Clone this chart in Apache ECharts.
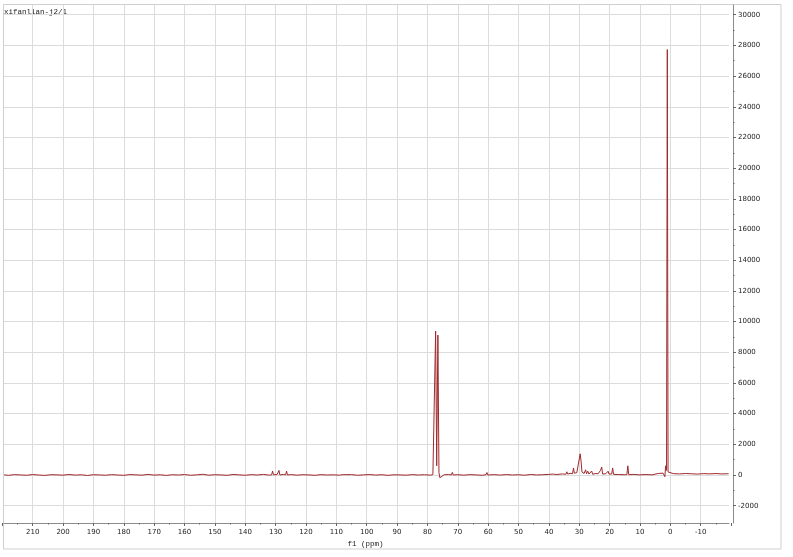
<!DOCTYPE html>
<html><head><meta charset="utf-8">
<script src="https://cdn.jsdelivr.net/npm/echarts@6/dist/echarts.min.js"></script>
<style>html,body{margin:0;padding:0;background:#fff}#c{width:793px;height:557px}</style>
</head><body><div id="c"></div>
<script>
// ---- data ----
const title = 'xifanlian-j2/1';
const xAxisName = 'f1 (ppm)';
const ppm = [
  219.4, 218, 216, 214, 212, 210, 208, 206, 204, 202,
  200, 198, 196, 194, 192, 190, 188, 186, 184, 182,
  180, 178, 176, 174, 172, 170, 168, 166, 164, 162,
  160, 158, 156, 154, 152, 150, 148, 146, 144, 142,
  140, 138, 136.1, 135.8, 135.5, 134, 132, 131.3, 131.0, 130.7,
  129.5, 128.9, 128.6, 127.5, 126.7, 126.4, 126.1, 125, 123, 121,
  119, 117, 115, 113, 111, 109, 108.1, 107.8, 107.5, 105,
  103, 101, 99, 97, 95, 93, 91, 89, 87, 85,
  83, 81, 79, 78.2, 77.75, 77.3, 76.95, 76.55, 76.2, 75.9,
  75.3, 74.5, 73, 72.1, 71.8, 71.5, 70, 68, 66, 64,
  62, 60.7, 60.4, 60.1, 58, 56, 54, 52, 50, 48,
  46, 44, 42, 40, 38.5, 37.6, 37.3, 37.0, 35.5, 34.4,
  34.1, 33.8, 33, 32.2, 31.9, 31.6, 30.8, 30.2, 29.7, 29.4,
  29.1, 28.4, 27.9, 27.6, 27.2, 26.8, 26.2, 25.9, 25.6, 24.5,
  23.8, 23.0, 22.6, 22.3, 21.2, 20.5, 20.2, 19.3, 19.0, 18.7,
  17, 15, 14.3, 14.0, 13.7, 12, 10.3, 10.0, 9.7, 8,
  6, 4, 2.4, 1.8, 1.55, 1.25, 1.0, 0.75, 0.4, -1,
  -3, -5, -7, -9, -11, -13, -15, -17, -19.2
];
const intensity = [
  10, -20, 25, 5, -15, 30, 0, -25, 20, 10,
  -10, 35, -5, 15, -30, 20, 5, -15, 25, 0,
  -20, 30, 10, -10, 40, -5, 15, -25, 20, 0,
  30, -15, 10, 45, -10, 20, 5, -20, 35, 10,
  -15, 25, 0, 110, 0, 40, -10, 10, 260, 20,
  30, 300, 0, 40, 10, 260, 0, 30, -10, 20,
  5, -20, 25, 0, 15, -10, 20, 140, 0, 25,
  -15, 10, 30, -5, 20, -20, 15, 5, -10, 25,
  0, 20, -10, 30, 120, 9380, 600, 9120, 150, -180,
  -60, 20, 30, 10, 170, 0, 20, -10, 25, 5,
  -15, 20, 160, 0, 25, -5, 30, 0, 20, -15,
  35, 5, 20, 40, 60, 30, 130, 40, 70, 50,
  210, 60, 110, 80, 460, 120, 150, 250, 1380, 900,
  200, 100, 340, 80, 250, 60, 90, 260, 50, 100,
  80, 300, 520, 60, 90, 250, 60, 70, 460, 40,
  30, 20, 30, 600, 20, 40, 10, 90, 0, 30,
  10, 100, 120, -110, 600, 300, 27730, 200, 120, 90,
  70, 100, 80, 60, 90, 75, 95, 70, 85
];
const xTickMin = -20, xTickMax = 220, xTickStep = 10;
const yTickMin = -2000, yTickMax = 30000, yTickStep = 2000;

// ---- layout (pixels) ----
const W = 793, H = 557;
const PL = 4, PR = 729, PT = 5, PB = 523;      // plot frame
const X210 = 32.7, XM10 = 700.7;              // pixel x of 210 and -10 ppm
const YT = 14.7, YB = 505.7;                  // pixel y of 30000 and -2000
const pxPerPpm = (XM10 - X210) / 220;
const pxPerUnit = (YB - YT) / (yTickMax - yTickMin);
const xFullMax = 210 + (X210 - PL) / pxPerPpm;
const xFullMin = -10 - (PR - XM10) / pxPerPpm;
const yFullMax = yTickMax + (YT - PT) / pxPerUnit;
const yFullMin = yTickMin - (PB - YB) / pxPerUnit;
const gLeft0 = X210 - 10 * pxPerPpm, gRight0 = XM10 + 10 * pxPerPpm;

const gridColor = '#dcdcdc', axisColor = '#8c8c8c', textColor = '#222';
const labelFont = 'DejaVu Sans';
const monoFont = 'Liberation Mono';

const chart = echarts.init(document.getElementById('c'), null, {renderer: 'canvas'});
const hidden = {show: false};
chart.setOption({
  animation: false,
  backgroundColor: '#fff',
  grid: [
    {left: gLeft0, right: W - gRight0, top: PT, bottom: H - PB},
    {left: PL, right: W - PR, top: YT, bottom: H - YB},
    {left: PL, right: W - PR, top: PT, bottom: H - PB}
  ],
  xAxis: [
    {gridIndex: 0, type: 'value', inverse: true, min: xTickMin, max: xTickMax, interval: xTickStep,
     axisLine: {show: false, onZero: false},
     axisTick: {show: true, length: 3, lineStyle: {color: '#666'}},
     minorTick: {show: true, splitNumber: 2, length: 1.5, lineStyle: {color: '#666'}},
     axisLabel: {fontSize: 7, fontFamily: labelFont, color: textColor, margin: 6, showMinLabel: false, showMaxLabel: false,
                 formatter: v => String(v)},
     splitLine: {show: true, showMinLine: false, showMaxLine: false, lineStyle: {color: gridColor, width: 1}}},
    {gridIndex: 1, type: 'value', min: 0, max: 1, show: false},
    {gridIndex: 2, type: 'value', inverse: true, min: xFullMin, max: xFullMax,
     axisLine: {show: true, onZero: false, lineStyle: {color: axisColor}},
     axisTick: hidden, axisLabel: hidden, splitLine: hidden}
  ],
  yAxis: [
    {gridIndex: 0, type: 'value', min: 0, max: 1, show: false},
    {gridIndex: 1, type: 'value', position: 'right', offset: 4, min: yTickMin, max: yTickMax, interval: yTickStep,
     axisLine: {show: false, onZero: false},
     axisTick: {show: true, length: 3, lineStyle: {color: '#666'}},
     minorTick: {show: true, splitNumber: 2, length: 1.5, lineStyle: {color: '#666'}},
     axisLabel: {fontSize: 7, fontFamily: labelFont, color: textColor, margin: 5, formatter: v => String(v)},
     splitLine: {show: true, lineStyle: {color: gridColor, width: 1}}},
    {gridIndex: 2, type: 'value', position: 'right', offset: 4, min: yFullMin, max: yFullMax,
     axisLine: {show: true, onZero: false, lineStyle: {color: axisColor}},
     axisTick: hidden, axisLabel: hidden, splitLine: hidden}
  ],
  series: [{
    type: 'line', xAxisIndex: 2, yAxisIndex: 2,
    data: ppm.map((p, i) => [p, intensity[i]]),
    showSymbol: false, symbol: 'none',
    lineStyle: {color: '#a02a2c', width: 1},
    clip: true
  }],
  graphic: [
    {type: 'rect', shape: {x: 3.5, y: 4.5, width: 777.5, height: 544.5},
     style: {fill: 'none', stroke: '#cfcfcf', lineWidth: 1}, silent: true, z: 0},
    {type: 'text', left: 4, top: 8, style: {text: title, font: '7.5px "' + monoFont + '"', fill: textColor}},
    {type: 'text', x: 365.5, y: 544, style: {text: xAxisName, font: '7.5px "' + monoFont + '"', fill: textColor, align: 'center', verticalAlign: 'middle'}}
  ]
});
</script></body></html>
